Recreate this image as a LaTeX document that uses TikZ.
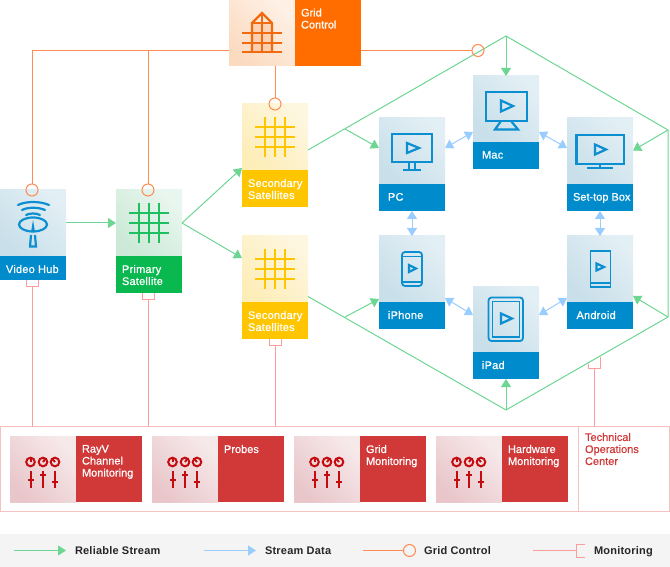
\documentclass[tikz,border=0pt]{standalone}
\usepackage{fontspec}
\setmainfont{Liberation Sans}
\newfontfamily\fontWide[LetterSpace=2,FakeBold=0.6]{Liberation Sans}
\newfontfamily\fontTight[FakeBold=0.6]{Liberation Sans}
\newfontfamily\fontKey[LetterSpace=2]{Liberation Sans}
\usetikzlibrary{arrows.meta,calc}
\definecolor{cBlue}{HTML}{008CCC}
\definecolor{cBlueA}{HTML}{C3DCE7}
\definecolor{cBlueB}{HTML}{E8F2F7}
\definecolor{cBlueI}{HTML}{0B8FD0}
\definecolor{cGreen}{HTML}{0AB850}
\definecolor{cGreenA}{HTML}{C4E6D1}
\definecolor{cGreenB}{HTML}{F0F9F4}
\definecolor{cGreenI}{HTML}{1FBF5F}
\definecolor{cYel}{HTML}{FFC600}
\definecolor{cYelA}{HTML}{FDEBB0}
\definecolor{cYelB}{HTML}{FEF9E8}
\definecolor{cOr}{HTML}{FF6D00}
\definecolor{cOrA}{HTML}{FBD6B8}
\definecolor{cOrB}{HTML}{FEF5ED}
\definecolor{cOrI}{HTML}{F26A10}
\definecolor{cRed}{HTML}{D13838}
\definecolor{cRedA}{HTML}{E6BFC3}
\definecolor{cRedB}{HTML}{F9F0F1}
\definecolor{cRedI}{HTML}{C40C10}
\definecolor{lGreen}{HTML}{6CD692}
\definecolor{lBlue}{HTML}{99CCFF}
\definecolor{lOr}{HTML}{FF8C50}
\definecolor{lPink}{HTML}{FF9C9C}
\definecolor{lFrame}{HTML}{F5C2C2}
\definecolor{legBg}{HTML}{F4F4F4}
\tikzset{
  x=1pt,y=-1pt,
  every node/.style={outer sep=0pt},
  iconbox/.style n args={2}{anchor=north west,inner sep=0pt,minimum width=66pt,minimum height=66pt,
     shade,bottom color=#1!85!#2,top color=#2!85!#1,shading angle=-45},
  lblbox/.style n args={2}{anchor=north west,inner sep=0pt,minimum width=66pt,minimum height=#1,fill=#2},
  lbltext/.style={anchor=north west,inner sep=0pt,align=left,text=white,font=\fontWide\fontsize{11}{12}\selectfont},
  lblplain/.style={anchor=north west,inner sep=0pt,align=left,text=white,font=\fontTight\fontsize{11}{12}\selectfont},
  toctext/.style={anchor=north west,inner sep=0pt,align=left,text=cRed,font=\fontTight\fontsize{11}{12}\selectfont},
  legtext/.style={anchor=base west,inner sep=0pt,text=black!85,font=\fontKey\fontsize{11}{12}\selectfont\bfseries},
  rel/.style={draw=lGreen,line width=1pt},
  relarrow/.style={rel,-{Triangle[length=8pt,width=10pt]}},
  data/.style={draw=lBlue,line width=1pt,{Triangle[length=8pt,width=10pt]}-{Triangle[length=8pt,width=10pt]}},
  dataone/.style={draw=lBlue,line width=1pt,-{Triangle[length=8pt,width=10pt]}},
  ctl/.style={draw=lOr,line width=1pt},
  mon/.style={draw=lPink,line width=1pt},
  icon/.style={line width=2.2pt,line join=miter},
  thinicon/.style={line width=1.8pt,line join=miter},
}
% name, x, y, label height, colour prefix, text, text dx, text style
\newcommand{\devbox}[8][lbltext]{%
  \node[iconbox={#6A}{#6B}] (#2) at (#3,#4) {};
  \node[lblbox={#5pt}{#6}] (#2-l) at (#2.south west) {};
  \node[#1] (#2-t) at ([xshift=#8pt,yshift=-9pt]#2-l.north west) {#7};
}
% name, x, text
\newcommand{\monbox}[3]{%
  \node[iconbox={cRedA}{cRedB}] (#1) at (#2,436) {};
  \node[lblbox={66pt}{cRed}] (#1-l) at (#1.north east) {};
  \node[lblplain] (#1-t) at ([xshift=6pt,yshift=-9pt]#1-l.north west) {#3};
  \begin{scope}[shift={(#2,436)},draw=cRedI,line width=2pt]
    \draw (20.5,26) circle (4.3); \draw (20.5,26) -- (20.5,22);
    \draw (33,26) circle (4.3); \draw (33,26) -- (35.5,22.5);
    \draw (45,26) circle (4.3); \draw (45,26) -- (42,22.5);
    \draw (21,35) -- (21,52); \draw (18,44) -- (24,44);
    \draw (33,35) -- (33,52); \draw (30,39) -- (36,39);
    \draw (45,35) -- (45,52); \draw (42,46) -- (48,46);
  \end{scope}
}
\newcommand{\gridicon}[3]{%
  \begin{scope}[shift={(#1,#2)},icon,draw=#3]
    \foreach \v in {23,33,43}{
      \draw (13,\v) -- (53,\v);
      \draw (\v,13) -- (\v,53);
    }
  \end{scope}
}
\newcommand{\playicon}[6]{\draw[draw=cBlueI,line width=2.2pt,line join=miter] (#1,#2) -- (#3,#4) -- (#5,#6) -- cycle;}
\begin{document}
\begin{tikzpicture}
\useasboundingbox (0,0) rectangle (670,567);
% legend band and monitoring frame
\node[anchor=north west,inner sep=0pt,minimum width=670pt,minimum height=33pt,fill=legBg] (legend) at (0,534) {};
\node[anchor=north west,inner sep=0pt,minimum width=669pt,minimum height=85pt,draw=lFrame,line width=1pt] (frame) at (0.5,426.5) {};
\coordinate (divT) at (578.5,426.5);
\draw[draw=lFrame,line width=1pt] (divT) -- (divT |- frame.south);

% boxes
\node[iconbox={cOrA}{cOrB}] (grid) at (229,0) {};
\node[lblbox={66pt}{cOr}] (grid-l) at (grid.north east) {};
\node[lblplain] (grid-t) at ([xshift=6pt,yshift=-8.5pt]grid-l.north west) {Grid\\Control};
\devbox{video}{0}{190}{24}{cBlue}{Video Hub}{6}
\devbox{prim}{116}{190}{37}{cGreen}{Primary\\Satellite}{6}
\devbox{secA}{242}{104}{37}{cYel}{Secondary\\Satellites}{6}
\devbox{secB}{242}{236}{37}{cYel}{Secondary\\Satellites}{6}
\devbox{pc}{379}{118}{27}{cBlue}{PC}{9}
\devbox{mac}{473}{76}{27}{cBlue}{Mac}{9}
\devbox[lblplain]{stb}{567}{118}{27}{cBlue}{Set-top Box}{6}
\devbox{iphone}{379}{236}{27}{cBlue}{iPhone}{9}
\devbox{ipad}{473}{286}{27}{cBlue}{iPad}{9}
\devbox{android}{567}{236}{27}{cBlue}{Android}{9.5}
\monbox{mA}{10}{RayV\\Channel\\Monitoring}
\monbox{mB}{152}{Probes}
\monbox{mC}{294}{Grid\\Monitoring}
\monbox{mD}{436}{Hardware\\Monitoring}
\node[toctext] (toc) at (585,433) {Technical\\Operations\\Center};

% grid icons
\gridicon{116}{190}{cGreenI}
\gridicon{242}{104}{cYel}
\gridicon{242}{236}{cYel}
% grid control icon
\begin{scope}[shift={(229,0)},icon,draw=cOrI]
  \fill[cOrI,opacity=.15] (23,23) rectangle (43,52);
  \draw (13,33) -- (53,33);
  \draw (13,43) -- (53,43);
  \draw (13,52) -- (53,52);
  \draw (23,52) -- (23,23) -- (33,13) -- (43,23) -- (43,52);
  \draw (23,23) -- (43,23);
  \draw (33,13) -- (33,52);
\end{scope}
% video hub icon
\begin{scope}[draw=cBlueI,line width=2.2pt,line cap=round]
  \draw (18,205) .. controls (26,201) and (40,201) .. (49,205);
  \draw (22,210) .. controls (28,207) and (38,207) .. (45,210);
  \draw (26,215) .. controls (30,213) and (36,213) .. (40,215);
  \draw (33,224.5) ellipse (14 and 7);
  \fill[cBlueI] (33,220) -- (35,232) -- (31,232) -- cycle;
  \draw[line cap=butt] (31,235) -- (30,246.5) -- (36,246.5) -- (35,235);
\end{scope}
\begin{scope}[thinicon,draw=cBlueI]
  % pc
  \draw[line width=2.2pt] (392,134) rectangle (432,162);
  \draw (409,162) -- (409,170) (415,162) -- (415,170);
  \draw[line width=2.2pt] (403,170) -- (421,170);
  \playicon{407}{143}{407}{153}{419}{148}
  % mac
  \draw[line width=2.2pt] (486,92) rectangle (527,121);
  \draw[line width=2.2pt] (501,121) -- (495,129.5) -- (518,129.5) -- (511,121);
  \playicon{501}{100.5}{501}{111.5}{513}{106}
  % set-top box
  \draw[line width=2.2pt] (576.5,135) rectangle (624,164);
  \draw (600,164) -- (600,168);
  \draw[line width=2.2pt] (587,168) -- (613,168);
  \playicon{595}{144.5}{595}{154.5}{606}{149.5}
  % iphone
  \draw[rounded corners=3pt,line width=1.8pt] (402,252) rectangle (422,286);
  \draw (402,256.5) -- (422,256.5) (402,282) -- (422,282);
  \playicon{409}{265}{409}{272}{416}{268.5}
  % android
  \draw (590.5,251) rectangle (610.5,287);
  \draw (590.5,283) -- (610.5,283);
  \playicon{596.5}{263.5}{596.5}{270.5}{604}{267}
  % ipad
  \draw[rounded corners=3pt,line width=1.8pt] (488.5,297.5) rectangle (523,341);
  \draw[line width=1.4pt] (492.5,301.5) rectangle (519.5,337);
  \playicon{501}{313.5}{501}{323.5}{512}{318.5}
\end{scope}

% reliable stream network
\coordinate (hT) at (506,36);
\coordinate (hRa) at (668,130);
\coordinate (hRb) at (668,317);
\coordinate (hB) at (506,410);
\coordinate (hLa) at (345,129);
\coordinate (hLb) at (345,317);
\coordinate (split) at (182,223);
\draw[rel] ([yshift=-13pt]secA.east) -- (hT) -- (hRa) -- (hRb) -- (hB) -- ([yshift=-27.5pt]secB.east);
\draw[relarrow] (hLa) -- ([yshift=3pt]pc.west);
\draw[relarrow] (hLb) -- ([yshift=-30pt]iphone.west);
\draw[relarrow] (hRa) -- ([yshift=0.5pt]stb.east);
\draw[relarrow] (hRb) -- ([yshift=-27pt]android.east);
\draw[relarrow] (hT) -- (mac.north);
\draw[relarrow] (hB) -- (ipad-l.south);
\draw[relarrow] (video.east) -- (prim.west);
\draw[relarrow] (split) -- ([yshift=-31pt]secA.west);
\draw[relarrow] (split) -- ([yshift=11pt]secB.west);

% stream data
\draw[data] ([yshift=3pt]pc.east) -- ([yshift=-23pt]mac.west);
\draw[data] ([yshift=-23pt]mac.east) -- ([yshift=3pt]stb.west);
\draw[data] (pc-l.south) -- (iphone.north);
\draw[data] (stb-l.south) -- (android.north);
\draw[data] ([yshift=-29pt]iphone.east) -- ([yshift=4pt]ipad.west);
\draw[data] ([yshift=4pt]ipad.east) -- ([yshift=-29pt]android.west);

% grid control
\coordinate (cA) at (32,190);
\coordinate (cB) at (148,190);
\coordinate (cC) at (275,104);
\coordinate (cD) at (478,50.5);
\coordinate (gL) at (229,50.5);
\coordinate (gR) at (361,50.5);
\coordinate (gB) at (275,66);
\draw[ctl] (gL) -- (gL -| cA) -- ([yshift=6pt]cA);
\draw[ctl] (gL -| cB) -- ([yshift=6pt]cB);
\draw[ctl] (gR) -- ([xshift=-6pt]cD);
\draw[ctl] (gB) -- ([yshift=6pt]cC);
\draw[ctl] (cA) circle (6);
\draw[ctl] (cB) circle (6);
\draw[ctl] (cC) circle (6);
\draw[ctl] (cD) circle (6);

% monitoring
\coordinate (bA) at (32.5,286);
\coordinate (bB) at (148.5,299);
\coordinate (bC) at (275.5,345);
\coordinate (bD) at (594.5,368);
\foreach \b in {bA,bB,bC}{
  \draw[mon] (\b) -- (\b |- frame.north);
  \draw[mon] ([xshift=-6pt,yshift=6pt]\b) -- ([xshift=-6pt]\b) -- ([xshift=6pt]\b) -- ([xshift=6pt,yshift=6pt]\b);
}
\draw[mon] (bD) -- (bD |- frame.north);
\draw[mon] ([xshift=-6pt,yshift=4pt]bD) -- ([xshift=-6pt]bD) -- ([xshift=6pt]bD) -- ([xshift=6pt,yshift=11pt]bD);

% legend
\coordinate (kA) at (14,550.5);
\coordinate (kAe) at (66,550.5);
\coordinate (kB) at (204,550.5);
\coordinate (kBe) at (256,550.5);
\coordinate (kC) at (363,550.5);
\coordinate (kCc) at (409.5,550.5);
\coordinate (kD) at (533,550.5);
\coordinate (kDe) at (576.5,550.5);
\draw[relarrow] (kA) -- (kAe);
\draw[dataone] (kB) -- (kBe);
\draw[ctl] (kC) -- ([xshift=-6pt]kCc);
\draw[ctl] (kCc) circle (6);
\draw[mon] (kD) -- (kDe);
\draw[mon] ([xshift=8pt,yshift=6.5pt]kDe) -- ([yshift=6.5pt]kDe) -- ([yshift=-6.5pt]kDe) -- ([xshift=8pt,yshift=-6.5pt]kDe);
\node[legtext] (tA) at (75,554) {Reliable Stream};
\node[legtext] (tB) at (265,554) {Stream Data};
\node[legtext] (tC) at (424,554) {Grid Control};
\node[legtext] (tD) at (594,554) {Monitoring};
\end{tikzpicture}
\end{document}
